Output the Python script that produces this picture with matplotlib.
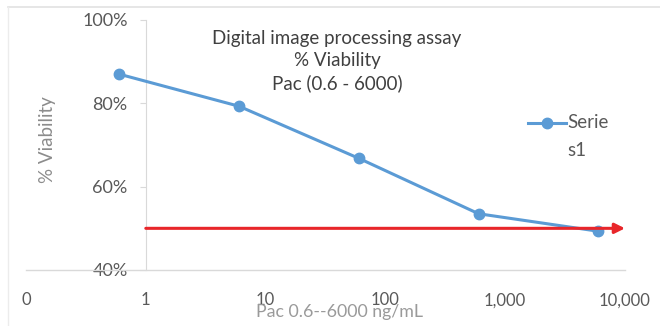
import matplotlib
matplotlib.use("Agg")
import matplotlib.pyplot as plt
from matplotlib.lines import Line2D

# Data
conc = [0.6, 6, 60, 600, 6000]
viability = [0.87, 0.793, 0.668, 0.535, 0.493]
xticks = [0.1, 1, 10, 100, 1000, 10000]
xticklabels = ["0", "1", "10", "100", "1,000", "10,000"]
yticks = [0.4, 0.6, 0.8, 1.0]
yticklabels = ["40%", "60%", "80%", "100%"]
threshold = 0.5
series_name = "Serie"
title = "Digital image processing assay\n% Viability\nPac (0.6 - 6000)"
xlabel = "Pac 0.6--6000 ng/mL"
ylabel = "% Viability"

plt.rcParams['font.family'] = ['Lato', 'DejaVu Sans']

W, H = 660, 326
fig = plt.figure(figsize=(W/100, H/100), dpi=100)
fig.patch.set_facecolor('white')

# faint outer frame (top and left)
fig.add_artist(Line2D([8/W, 1], [1-7/H, 1-7/H], color='#e2e2e2', lw=1.2))
fig.add_artist(Line2D([8/W, 8/W], [0, 1-7/H], color='#ececec', lw=1.0))

left, right = 26/W, 625/W
bottom, top = 1-270/H, 1-20/H
ax = fig.add_axes([left, bottom, right-left, top-bottom])
ax.set_xscale('log')
ax.set_xlim(0.1, 10000)
ax.set_ylim(0.4, 1.0)

for s in ['top', 'right']:
    ax.spines[s].set_visible(False)
ax.spines['left'].set_position(('data', 1))
ax.spines['left'].set_color('#d9d9d9')
ax.spines['bottom'].set_color('#d9d9d9')
ax.spines['bottom'].set_linewidth(1.0)

ax.set_yticks(yticks)
ax.set_yticklabels(yticklabels)
ax.set_xticks(xticks)
ax.set_xticklabels(xticklabels)
ax.minorticks_off()
ax.tick_params(axis='y', colors='#d9d9d9', labelcolor='#595959', labelsize=13,
               length=4, pad=9)
ax.tick_params(axis='x', length=0, labelcolor='#595959', labelsize=12, pad=16)

ax.plot(conc, viability, color='#5b9bd5', lw=2.2, marker='o', ms=7.5,
        markerfacecolor='#5b9bd5', markeredgecolor='#5b9bd5', zorder=3)

ax.annotate('', xy=(10000, threshold), xytext=(1, threshold),
            xycoords='data', textcoords='data',
            arrowprops=dict(arrowstyle='-|>,head_length=0.6,head_width=0.3',
                            color='#e8262a', lw=2.2, shrinkA=0, shrinkB=0),
            zorder=4)

fig.text(337/W, 1-61/H, title, ha='center', va='center', fontsize=13.5,
         color='#404040', linespacing=1.38)

fig.text(47/W, 1-140/H, ylabel, rotation=90, ha='center', va='center',
         fontsize=13.5, color='#8c8c8c')
fig.text(340/W, 1-312/H, xlabel, ha='center', va='center',
         fontsize=12.8, color='#9a9a9a')

# legend
fig.add_artist(Line2D([528/W, 566/W], [1-123/H, 1-123/H], color='#5b9bd5', lw=2.2))
fig.add_artist(Line2D([547/W], [1-123/H], color='#5b9bd5', marker='o', ms=7.5, lw=0))
fig.text(567/W, 1-123/H, series_name, ha='left', va='center', fontsize=13.5,
         color='#595959')
fig.text(567/W, 1-150/H, "s1", ha='left', va='center', fontsize=13.5,
         color='#595959')

fig.savefig('out.png', dpi=100, facecolor='white')
